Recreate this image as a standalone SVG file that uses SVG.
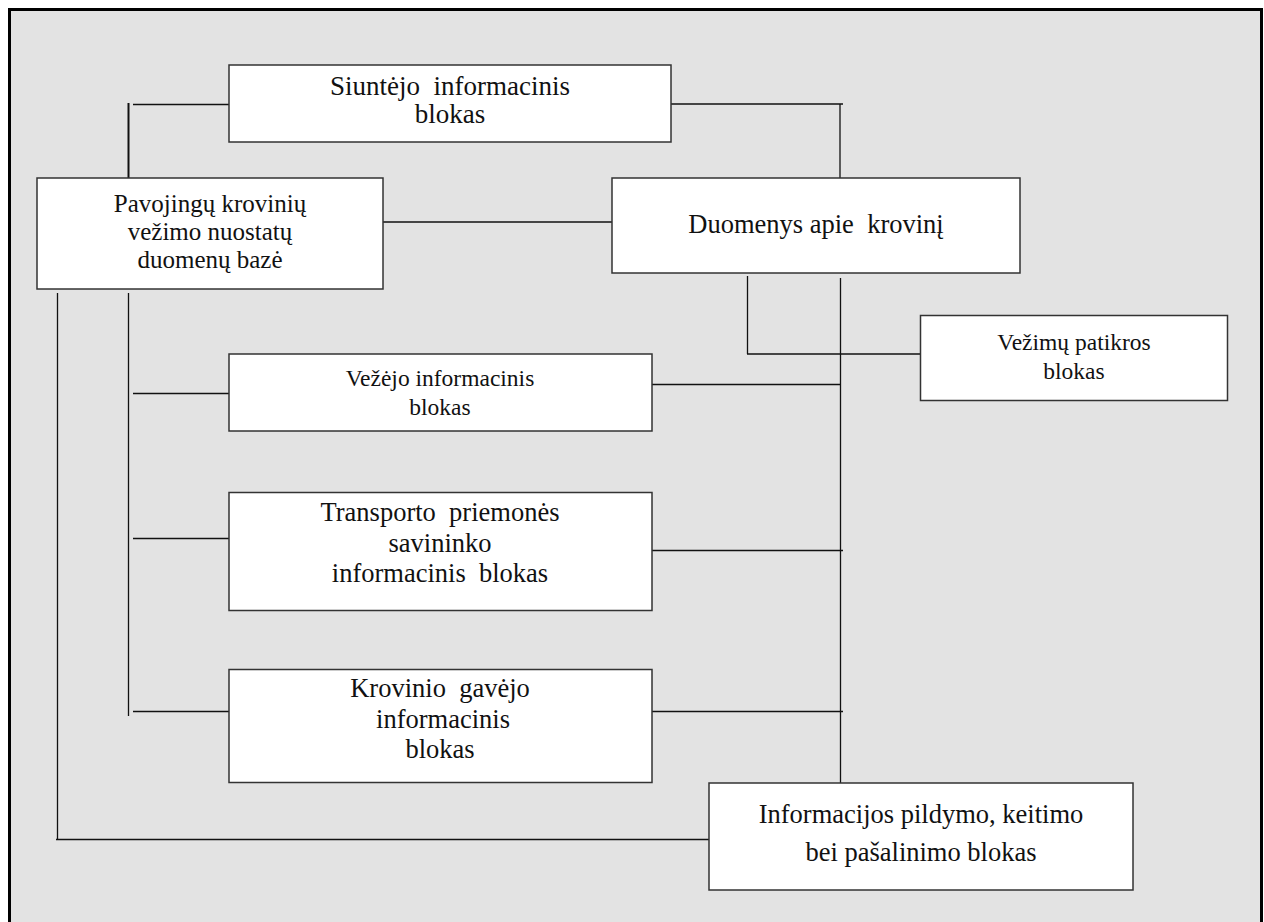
<svg xmlns="http://www.w3.org/2000/svg" width="1264" height="922" viewBox="0 0 1264 922">
<style>
.node rect{fill:#ffffff;stroke:#333333;stroke-width:1.5}
.node text{font-family:"Liberation Serif","Times New Roman",serif;fill:#111111;text-anchor:middle}
#connectors line{stroke:#111111;stroke-width:1.3}
</style>
<rect x="0" y="0" width="1264" height="922" fill="#ffffff"/>
<rect x="9.5" y="9.5" width="1252" height="930" fill="#e3e3e3" stroke="#000000" stroke-width="3"/>
<g id="connectors">
<line x1="133" y1="104.5" x2="229" y2="104.5"/>
<line x1="128.5" y1="103" x2="128.5" y2="178" style="stroke-width:2"/>
<line x1="671" y1="104" x2="843" y2="104"/>
<line x1="840" y1="104" x2="840" y2="178"/>
<line x1="383" y1="222" x2="612" y2="222"/>
<line x1="747.5" y1="276" x2="747.5" y2="354"/>
<line x1="747" y1="354" x2="920" y2="354"/>
<line x1="840.5" y1="278" x2="840.5" y2="785"/>
<line x1="652" y1="384.5" x2="840" y2="384.5"/>
<line x1="128.5" y1="293" x2="128.5" y2="716"/>
<line x1="133" y1="393.5" x2="229" y2="393.5"/>
<line x1="133" y1="538.5" x2="229" y2="538.5"/>
<line x1="133" y1="711.5" x2="229" y2="711.5"/>
<line x1="652" y1="550.5" x2="843" y2="550.5"/>
<line x1="652" y1="711.5" x2="843" y2="711.5"/>
<line x1="57.5" y1="293" x2="57.5" y2="839"/>
<line x1="56" y1="839.5" x2="709" y2="839.5"/>
</g>
<g id="siuntejo" class="node">
<rect x="229" y="65" width="442" height="77"/>
<text x="450" y="95" font-size="27" xml:space="preserve">Siuntėjo  informacinis</text>
<text x="450" y="123" font-size="27">blokas</text>
</g>
<g id="pavojingu" class="node">
<rect x="37" y="178" width="346" height="111"/>
<text x="210" y="212" font-size="25">Pavojingų krovinių</text>
<text x="210" y="240" font-size="25">vežimo nuostatų</text>
<text x="210" y="268" font-size="25">duomenų bazė</text>
</g>
<g id="duomenys" class="node">
<rect x="612" y="178" width="408" height="95"/>
<text x="816" y="233" font-size="26.5" xml:space="preserve">Duomenys apie  krovinį</text>
</g>
<g id="vezimu" class="node">
<rect x="920.5" y="315.5" width="307" height="85"/>
<text x="1074" y="350" font-size="23.5">Vežimų patikros</text>
<text x="1074" y="379" font-size="23.5">blokas</text>
</g>
<g id="vezejo" class="node">
<rect x="229" y="354" width="423" height="77"/>
<text x="440" y="386" font-size="23.5">Vežėjo informacinis</text>
<text x="440" y="415" font-size="23.5">blokas</text>
</g>
<g id="transporto" class="node">
<rect x="229" y="492.5" width="423" height="118"/>
<text x="440" y="521" font-size="26.5" xml:space="preserve">Transporto  priemonės</text>
<text x="440" y="552" font-size="26.5">savininko</text>
<text x="440" y="582" font-size="26.5" xml:space="preserve">informacinis  blokas</text>
</g>
<g id="krovinio" class="node">
<rect x="229" y="669.5" width="423" height="113"/>
<text x="440" y="697" font-size="26.5" xml:space="preserve">Krovinio  gavėjo</text>
<text x="443" y="728" font-size="26.5">informacinis</text>
<text x="440" y="758" font-size="26.5">blokas</text>
</g>
<g id="informacijos" class="node">
<rect x="709" y="783" width="424" height="107"/>
<text x="921" y="823" font-size="26.5">Informacijos pildymo, keitimo</text>
<text x="921" y="861" font-size="26.5">bei pašalinimo blokas</text>
</g>
</svg>
